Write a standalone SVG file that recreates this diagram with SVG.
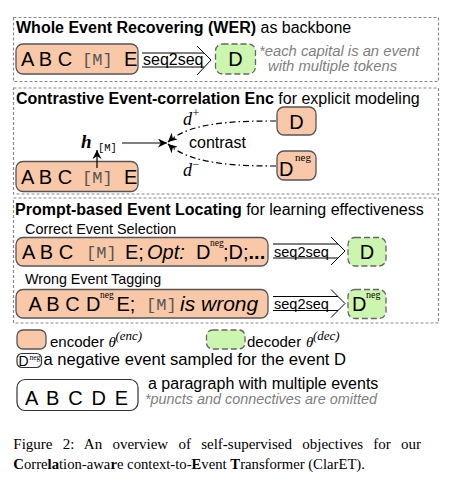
<svg xmlns="http://www.w3.org/2000/svg" width="453" height="484" viewBox="0 0 453 484">
<defs>
<style>
.sec{fill:none;stroke:#8a8a8a;stroke-width:1.2;stroke-dasharray:3 2}
.enc{fill:#F8C8A8;stroke:#555;stroke-width:1.3}
.dec{fill:#CCF5B0;stroke:#666;stroke-width:1.3;stroke-dasharray:6 3}
.wht{fill:#fff;stroke:#333;stroke-width:1.2}
.t{font-family:'Liberation Sans',Arial,sans-serif;fill:#000}
.b{font-weight:bold}
.big{font-size:20px}
.mono{font-family:'Liberation Mono','DejaVu Sans Mono',monospace;fill:#555}
.ser{font-family:'Liberation Serif','DejaVu Serif',serif;fill:#000}
.it{font-style:italic}
.note{font-family:'Liberation Sans',Arial,sans-serif;font-style:italic;fill:#808080}
.dd{fill:none;stroke:#000;stroke-width:1.2;stroke-dasharray:6 3 1.5 3}
.ln{fill:none;stroke:#000;stroke-width:1.2}
.dbl{fill:none;stroke:#000;stroke-width:1}
</style>
<marker id="ah" viewBox="0 0 10 10" refX="10" refY="5" markerWidth="9" markerHeight="9" orient="auto" markerUnits="userSpaceOnUse"><path d="M0,0 L10,5 L0,10 L3,5 z" fill="#000"/></marker>
</defs>

<!-- Section 1 -->
<g id="sec-wer">
<rect class="sec" x="13.5" y="17.5" width="425" height="64"/>
<text class="t" x="16" y="33" font-size="16"><tspan class="b">Whole Event Recovering (WER)</tspan> as backbone</text>
</g>
<g id="wer-encoder">
<rect class="enc" x="16" y="44" width="122" height="30" rx="7"/>
<text class="t big" x="21" y="66">A B C</text>
<text class="mono" x="82" y="65" font-size="17">[M]</text>
<text class="t big" x="124" y="66">E</text>
</g>
<g id="wer-decoder">
<rect class="dec" x="215.5" y="44" width="40" height="30" rx="7"/>
<text class="t big" x="235.5" y="66" text-anchor="middle">D</text>
</g>
<g id="wer-note">
<text class="note" x="259" y="56" font-size="14.8">*each capital is an event</text>
<text class="note" x="268" y="70.5" font-size="14.8">with multiple tokens</text>
</g>

<!-- Section 2 -->
<g id="sec-cec">
<rect class="sec" x="13.5" y="88" width="425" height="106"/>
<text class="t" x="16" y="104" font-size="16"><tspan class="b">Contrastive Event-correlation Enc</tspan> for explicit modeling</text>
</g>
<g id="cec-d">
<rect class="enc" x="277" y="107" width="39" height="28" rx="7"/>
<text class="t big" x="296.5" y="128.5" text-anchor="middle">D</text>
</g>
<g id="cec-dneg">
<rect class="enc" x="277" y="151" width="39" height="29" rx="7"/>
<text class="t big" x="279" y="176">D</text>
<text class="ser" x="295" y="161" font-size="11">neg</text>
</g>
<g id="cec-encoder">
<rect class="enc" x="16" y="161.5" width="122" height="30" rx="7"/>
<text class="t big" x="21" y="183.5">A B C</text>
<text class="mono" x="82" y="182.5" font-size="17">[M]</text>
<text class="t big" x="124" y="183.5">E</text>
</g>
<g id="cec-h">
<text class="ser it b" x="81" y="148" font-size="19">h</text>
<text class="mono" x="98" y="150.5" font-size="10.5" style="fill:#000">[M]</text>
</g>
<g id="cec-labels">
<text class="ser it" x="183" y="125" font-size="18">d</text>
<text class="ser" x="192.5" y="117" font-size="12">+</text>
<text class="t" x="189" y="148" font-size="16">contrast</text>
<text class="ser it" x="183" y="176" font-size="18">d</text>
<text class="ser" x="192.5" y="168" font-size="12">−</text>
</g>

<!-- Section 3 -->
<g id="sec-pel">
<rect class="sec" x="13.5" y="198" width="425" height="125"/>
<text class="t" x="15" y="215" font-size="16"><tspan class="b">Prompt-based Event Locating</tspan> for learning effectiveness</text>
<text class="t" x="25" y="233.5" font-size="14.4">Correct Event Selection</text>
<text class="t" x="25" y="284" font-size="14.3">Wrong Event Tagging</text>
</g>
<g id="pel-encoder-1">
<rect class="enc" x="16" y="237.5" width="252" height="28.5" rx="7"/>
<text class="t big" x="22" y="258.5">A B C</text>
<text class="mono" x="86" y="257.5" font-size="17">[M]</text>
<text class="t big" x="125" y="258.5">E;</text>
<text class="t big it" x="147" y="258.5">Opt:</text>
<text class="t big" x="196" y="258.5">D</text>
<text class="ser" x="210" y="246" font-size="9.5">neg</text>
<text class="t big" x="223" y="258.5">;D;<tspan class="b">...</tspan></text>
</g>
<g id="pel-decoder-1">
<rect class="dec" x="348" y="237.5" width="38" height="28.5" rx="7"/>
<text class="t big" x="367" y="258.5" text-anchor="middle">D</text>
</g>
<g id="pel-encoder-2">
<rect class="enc" x="16" y="289.5" width="252" height="28.5" rx="7"/>
<text class="t big" x="28.5" y="310.5">A B C</text>
<text class="t big" x="86" y="310.5">D</text>
<text class="ser" x="100" y="297.5" font-size="9.5">neg</text>
<text class="t big" x="116.5" y="310.5">E;</text>
<text class="mono" x="146" y="309.5" font-size="17">[M]</text>
<text class="t it" x="180" y="310.5" font-size="21">is wrong</text>
</g>
<g id="pel-decoder-2">
<rect class="dec" x="348" y="289.5" width="38" height="29" rx="7"/>
<text class="t big" x="352" y="311">D</text>
<text class="ser" x="366" y="298" font-size="10">neg</text>
</g>

<!-- Connectors -->
<g id="connectors">
<g id="seq2seq-wer">
<path class="dbl" d="M142,53 H204 M142,67 H204 M197,46 L211,60 L197,75"/>
<text class="t" x="143" y="65" font-size="16">seq2seq</text>
</g>
<g id="seq2seq-pel-1">
<path class="dbl" d="M273,244 H338 M273,258 H338 M331,237 L345,251 L331,265"/>
<text class="t" x="274" y="256.5" font-size="14.5">seq2seq</text>
</g>
<g id="seq2seq-pel-2">
<path class="dbl" d="M273,296.5 H338 M273,310.5 H338 M331,289.5 L345,303.5 L331,317.5"/>
<text class="t" x="274" y="309" font-size="14.5">seq2seq</text>
</g>
<path class="ln" d="M97,168 V150" marker-end="url(#ah)"/>
<path class="ln" d="M122,143 H167" marker-end="url(#ah)"/>
<path class="dd" d="M276,121 C235,121 190,122 168,142" marker-end="url(#ah)"/>
<path class="dd" d="M276,166 C235,166 190,164 168,144" marker-end="url(#ah)"/>
</g>

<!-- Legend -->
<g id="legend-encoder">
<rect class="enc" x="17" y="330" width="29" height="19" rx="6"/>
<text class="t" x="50" y="346.5" font-size="15">encoder</text>
<text class="ser it" x="108.5" y="346.5" font-size="15">θ</text>
<text class="ser it" x="115.5" y="339.5" font-size="13">(enc)</text>
</g>
<g id="legend-decoder">
<rect class="dec" x="206.5" y="330" width="38.5" height="19" rx="6"/>
<text class="t" x="247" y="346.5" font-size="15">decoder</text>
<text class="ser it" x="306" y="346.5" font-size="15">θ</text>
<text class="ser it" x="313" y="339.5" font-size="13">(dec)</text>
</g>
<g id="legend-dneg">
<rect class="wht" x="17" y="353.5" width="24.5" height="14" rx="5"/>
<text class="t" x="18.5" y="366" font-size="14">D</text>
<text class="ser" x="29.5" y="360" font-size="7.5">neg</text>
<text class="t" x="43.5" y="365" font-size="16.6">a negative event sampled for the event D</text>
</g>
<g id="legend-paragraph">
<rect class="wht" x="17" y="379.5" width="121" height="31" rx="8"/>
<text class="t big" x="25" y="405" textLength="103">A B C D E</text>
<text class="t" x="148" y="389" font-size="16">a paragraph with multiple events</text>
<text class="note" x="145" y="403.5" font-size="14.4">*puncts and connectives are omitted</text>
</g>

<!-- Caption -->
<g id="caption">
<text class="ser" x="13.3" y="448.5" font-size="15" word-spacing="6.5">Figure 2: An overview of self-supervised objectives for our</text>
<text class="ser" x="13.3" y="468.5" font-size="14.7"><tspan font-weight="bold">C</tspan>orre<tspan font-weight="bold">la</tspan>tion-awa<tspan font-weight="bold">r</tspan>e context-to-<tspan font-weight="bold">E</tspan>vent <tspan font-weight="bold">T</tspan>ransformer (ClarET).</text>
</g>
</svg>
